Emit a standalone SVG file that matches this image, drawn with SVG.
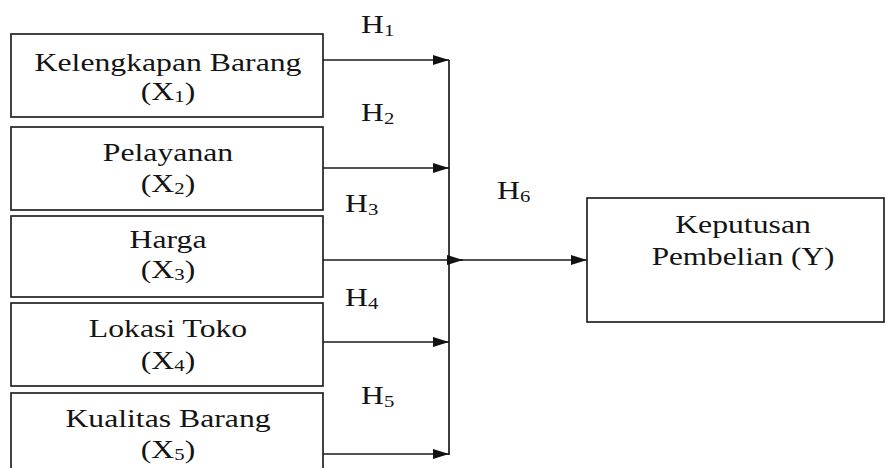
<svg xmlns="http://www.w3.org/2000/svg" width="886" height="468" viewBox="0 0 886 468">
  <style>
    .box { fill: #ffffff; stroke: #222222; stroke-width: 1.7; }
    text { font-family: 'Liberation Serif', 'Times New Roman', Times, serif; font-size: 26px; fill: #141414; }
    .c { text-anchor: middle; }
    .sub { font-size: 17px; }
    .wire { fill: none; stroke: #1a1a1a; stroke-width: 1.7; }
  </style>
  <defs>
    <marker id="tri" viewBox="0 0 16 10" refX="16" refY="5" markerWidth="16" markerHeight="10" markerUnits="userSpaceOnUse" orient="auto">
      <path d="M0,0 L16,5 L0,10 Z" fill="#111111"/>
    </marker>
  </defs>
  <rect width="886" height="468" fill="#ffffff"/>

  <!-- connectors -->
  <g id="connectors">
    <line class="wire" x1="449" y1="60" x2="449" y2="455"/>
    <line class="wire" x1="323" y1="60" x2="449" y2="60" marker-end="url(#tri)"/>
    <line class="wire" x1="323" y1="168" x2="449" y2="168" marker-end="url(#tri)"/>
    <line class="wire" x1="323" y1="260" x2="463" y2="260" marker-end="url(#tri)"/>
    <line class="wire" x1="449" y1="260" x2="587" y2="260" marker-end="url(#tri)"/>
    <line class="wire" x1="323" y1="342" x2="449" y2="342" marker-end="url(#tri)"/>
    <line class="wire" x1="323" y1="454" x2="449" y2="454" marker-end="url(#tri)"/>
  </g>

  <!-- hypothesis labels -->
  <g id="hypotheses">
    <text transform="translate(361 0) scale(1.22 1)" y="33">H<tspan class="sub" dy="3">1</tspan></text>
    <text transform="translate(361 0) scale(1.22 1)" y="121">H<tspan class="sub" dy="3">2</tspan></text>
    <text transform="translate(345 0) scale(1.22 1)" y="212">H<tspan class="sub" dy="3">3</tspan></text>
    <text transform="translate(345 0) scale(1.22 1)" y="306">H<tspan class="sub" dy="3">4</tspan></text>
    <text transform="translate(361 0) scale(1.22 1)" y="404">H<tspan class="sub" dy="3">5</tspan></text>
    <text transform="translate(497 0) scale(1.22 1)" y="199">H<tspan class="sub" dy="3">6</tspan></text>
  </g>

  <g id="x1">
    <rect class="box" x="11" y="34" width="312" height="83"/>
    <text class="c" transform="translate(168 0) scale(1.22 1)" y="71">Kelengkapan Barang</text>
    <text class="c" transform="translate(168 0) scale(1.22 1)" y="100">(X<tspan class="sub" dy="2">1</tspan><tspan dy="-2">)</tspan></text>
  </g>

  <g id="x2">
    <rect class="box" x="11" y="127" width="312" height="83"/>
    <text class="c" transform="translate(168 0) scale(1.22 1)" y="161">Pelayanan</text>
    <text class="c" transform="translate(168 0) scale(1.22 1)" y="192">(X<tspan class="sub" dy="2">2</tspan><tspan dy="-2">)</tspan></text>
  </g>

  <g id="x3">
    <rect class="box" x="11" y="216" width="312" height="81"/>
    <text class="c" transform="translate(168 0) scale(1.22 1)" y="248">Harga</text>
    <text class="c" transform="translate(168 0) scale(1.22 1)" y="278">(X<tspan class="sub" dy="2">3</tspan><tspan dy="-2">)</tspan></text>
  </g>

  <g id="x4">
    <rect class="box" x="11" y="303" width="312" height="83"/>
    <text class="c" transform="translate(168 0) scale(1.22 1)" y="337">Lokasi Toko</text>
    <text class="c" transform="translate(168 0) scale(1.22 1)" y="369">(X<tspan class="sub" dy="2">4</tspan><tspan dy="-2">)</tspan></text>
  </g>

  <g id="x5">
    <rect class="box" x="11" y="393" width="312" height="80"/>
    <text class="c" transform="translate(168 0) scale(1.22 1)" y="427">Kualitas Barang</text>
    <text class="c" transform="translate(168 0) scale(1.22 1)" y="458">(X<tspan class="sub" dy="2">5</tspan><tspan dy="-2">)</tspan></text>
  </g>

  <g id="y">
    <rect class="box" x="587" y="198" width="297" height="124"/>
    <text class="c" transform="translate(743 0) scale(1.22 1)" y="233">Keputusan</text>
    <text class="c" transform="translate(743 0) scale(1.2 1)" y="265">Pembelian (Y)</text>
  </g>
</svg>
